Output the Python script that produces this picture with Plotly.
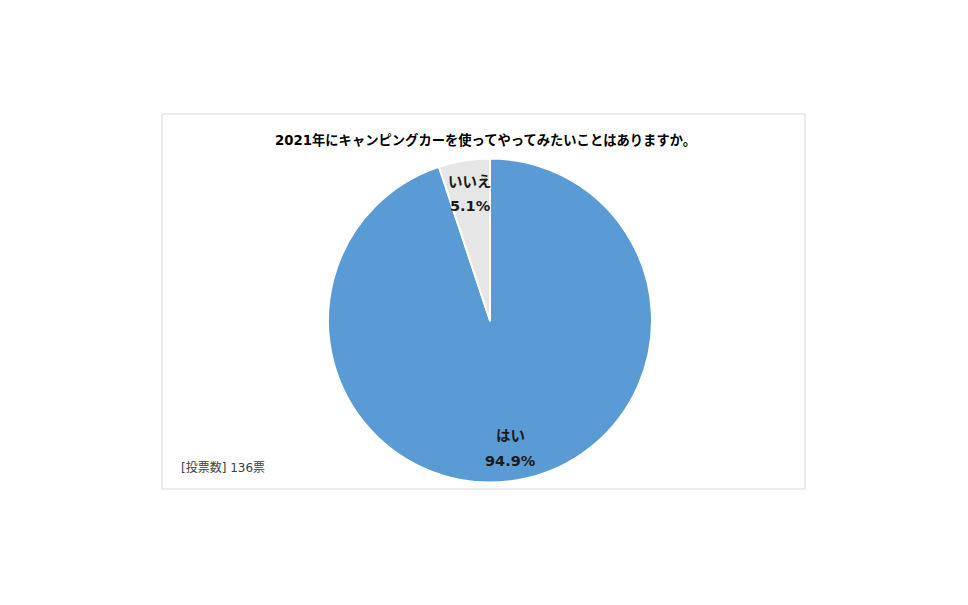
import plotly.graph_objects as go

labels = ["はい", "いいえ"]
shares = [94.9, 5.1]
colors = ["#5B9BD5", "#E7E6E6"]
title_text = "2021年にキャンピングカーを使ってやってみたいことはありますか。"
note_text = "[投票数] 136票"

W, H = 968, 605
OFF = 8  # page body margin of the browser
FONT = "DejaVu Sans, Noto Sans CJK JP, sans-serif"

def px(x):
    return (x - OFF) / W

def py(y):
    return 1 - (y - OFF) / H

fig = go.Figure(go.Pie(
    labels=labels,
    values=shares,
    sort=False,
    direction="clockwise",
    rotation=0,
    marker=dict(colors=colors, line=dict(color="white", width=2)),
    textinfo="none",
    hoverinfo="label+percent",
    domain=dict(x=[px(328), px(652)], y=[py(482.5), py(158.5)]),
    showlegend=False,
))

# slice labels placed like the original: name above, percent below
label_pos = [(510, 436, 461), (470, 182, 206)]
for lab, val, (x, y1, y2) in zip(labels, shares, label_pos):
    for txt, y in ((lab, y1), (f"{val}%", y2)):
        fig.add_annotation(
            x=px(x), y=py(y), xref="paper", yref="paper",
            text=f"<b>{txt}</b>",
            showarrow=False,
            font=dict(family=FONT, size=14.5, color="#1a1a1a"),
            xanchor="center", yanchor="middle",
        )

fig.add_annotation(
    x=px(485), y=py(140), xref="paper", yref="paper",
    text=f"<b>{title_text}</b>", showarrow=False,
    font=dict(family=FONT, size=13.3, color="#000000"),
    xanchor="center", yanchor="middle",
)

fig.add_annotation(
    x=px(179), y=py(467), xref="paper", yref="paper",
    text=note_text, showarrow=False,
    font=dict(family=FONT, size=12, color="#404040"),
    xanchor="left", yanchor="middle",
)

fig.add_shape(
    type="rect", xref="paper", yref="paper",
    x0=px(162), x1=px(805), y0=py(489), y1=py(114),
    line=dict(color="#D9D9D9", width=1), fillcolor="rgba(0,0,0,0)",
)

fig.update_layout(
    width=W, height=H,
    margin=dict(l=0, r=0, t=0, b=0),
    paper_bgcolor="white", plot_bgcolor="white",
)

fig.write_html("out.html")
